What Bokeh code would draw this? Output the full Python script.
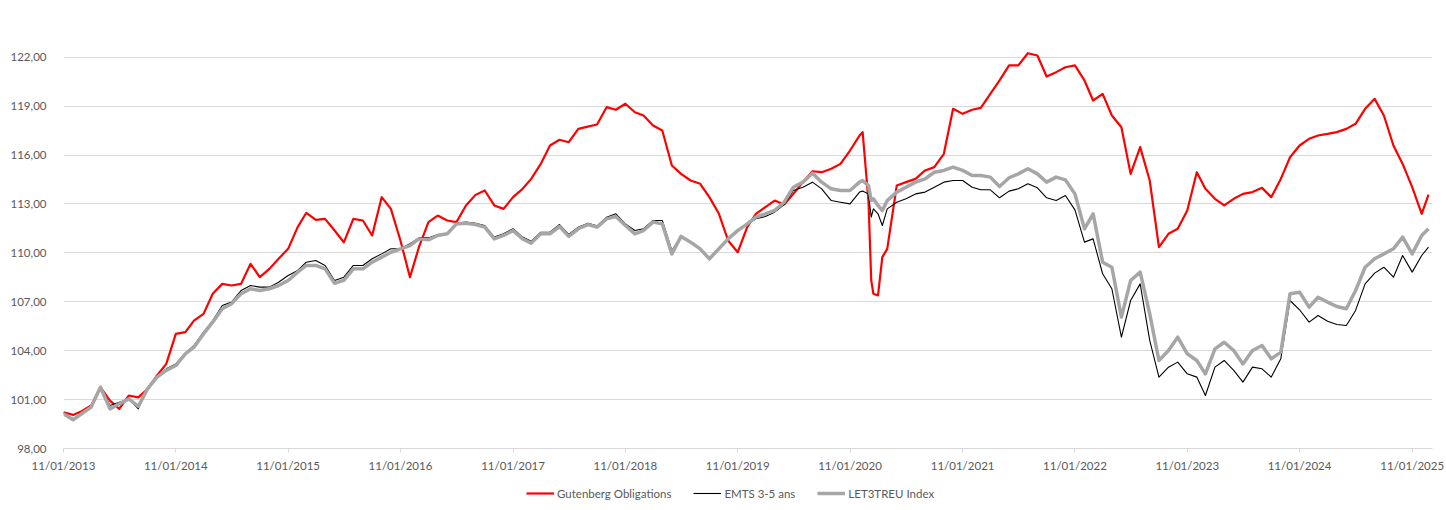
import pandas as pd
from bokeh.plotting import figure
from bokeh.layouts import column
from bokeh.models import (ColumnDataSource, Range1d, FixedTicker, CustomJSTickFormatter,
                          Legend, LegendItem)
from bokeh.embed import file_html
from bokeh.resources import INLINE

# ---------------- data ----------------
MONTHLY = [f"{2013 + m // 12}-{m % 12 + 1:02d}-11" for m in range(146)]
EXTRA = ["2020-02-21", "2020-03-20", "2020-03-27", "2020-04-25", "2025-03-05"]
DATES = sorted(MONTHLY + EXTRA)

SERIES_NAMES = ["Gutenberg Obligations", "EMTS 3-5 ans", "LET3TREU Index"]

GUTENBERG = [
    100.22, 100.06, 100.29, 100.64, 101.76, 100.94, 100.43, 101.25, 101.14, 101.65, 102.48, 103.19,
    105.03, 105.14, 105.85, 106.26, 107.49, 108.10, 108.00, 108.10, 109.33, 108.51, 109.02, 109.64,
    110.25, 111.58, 112.46, 112.03, 112.09, 111.37, 110.65, 112.09, 111.99, 111.07, 113.42, 112.70,
    110.76, 108.51, 110.35, 111.89, 112.29, 111.99, 111.89, 112.91, 113.56, 113.83, 112.91, 112.70,
    113.42, 113.93, 114.54, 115.46, 116.59, 116.94, 116.79, 117.61, 117.75, 117.88, 118.94, 118.78,
    119.15, 118.63, 118.43, 117.82, 117.51, 115.36, 114.85, 114.44, 114.24, 113.42, 112.40, 110.76,
    110.04, 111.58, 112.40, 112.81, 113.21, 112.97, 113.62, 114.34, 115.01, 114.95, 115.16, 115.46,
    116.28, 117.20, 117.41, 113.21, 108.31, 107.49, 107.39, 109.74, 110.25, 114.14, 114.34, 114.54,
    115.06, 115.26, 116.08, 118.84,
    118.53, 118.78, 118.90, 119.76, 120.58, 121.50, 121.50, 122.25, 122.11, 120.82, 121.09, 121.39,
    121.50, 120.58, 119.35, 119.76, 118.43, 117.71, 114.85, 116.49, 114.44, 110.35, 111.17, 111.48,
    112.60, 114.95, 113.93, 113.32, 112.91, 113.32, 113.62, 113.73, 113.99, 113.42, 114.54, 115.87,
    116.59, 117.00, 117.20, 117.30, 117.41, 117.61, 117.92, 118.84, 119.45, 118.43, 116.59, 115.46,
    114.03, 112.40, 113.58,
]

EMTS = [
    100.19, 99.82, 100.17, 100.58, 101.80, 100.64, 100.84, 101.04, 100.43, 101.66, 102.38, 102.89,
    103.19, 103.85, 104.32, 105.14, 105.85, 106.77, 106.98, 107.69, 108.00, 107.90, 107.90, 108.20,
    108.61, 108.92, 109.43, 109.53, 109.23, 108.31, 108.51, 109.23, 109.23, 109.64, 109.94, 110.25,
    110.25, 110.56, 110.92, 110.92, 111.13, 111.21, 111.82, 111.89, 111.82, 111.68, 110.97, 111.17,
    111.48, 110.97, 110.72, 111.27, 111.27, 111.74, 111.13, 111.58, 111.82, 111.66, 112.19, 112.40,
    111.78, 111.37, 111.48, 111.99, 111.99, 110.15, 111.01, 110.66, 110.25, 109.57, 110.25, 110.92,
    111.42, 111.74, 112.09, 112.23, 112.50, 112.97, 113.83, 114.03, 114.34, 113.93, 113.21, 113.11,
    113.01, 113.73, 113.79, 113.62, 112.19, 112.70, 112.40, 111.68, 112.70, 113.11, 113.32, 113.62,
    113.73, 114.03, 114.34, 114.44,
    114.44, 114.03, 113.87, 113.87, 113.38, 113.79, 113.93, 114.24, 113.99, 113.38, 113.21, 113.52,
    112.64, 110.66, 110.86, 108.72, 107.80, 104.83, 107.08, 108.10, 104.63, 102.38, 102.99, 103.30,
    102.58, 102.38, 101.25, 102.99, 103.40, 102.79, 102.07, 102.99, 102.89, 102.38, 103.50, 107.08,
    106.51, 105.75, 106.16, 105.81, 105.61, 105.55, 106.47, 108.10, 108.76, 109.12, 108.51, 109.84,
    108.82, 109.84, 110.35,
]

LET3TREU = [
    100.13, 99.76, 100.13, 100.54, 101.76, 100.43, 100.74, 101.04, 100.58, 101.66, 102.38, 102.79,
    103.09, 103.81, 104.22, 105.03, 105.75, 106.57, 106.88, 107.49, 107.80, 107.69, 107.80, 108.00,
    108.31, 108.82, 109.23, 109.23, 109.02, 108.14, 108.31, 109.02, 109.02, 109.43, 109.74, 110.04,
    110.25, 110.45, 110.86, 110.80, 111.07, 111.17, 111.78, 111.82, 111.74, 111.58, 110.86, 111.07,
    111.37, 110.86, 110.60, 111.17, 111.17, 111.62, 111.01, 111.48, 111.74, 111.58, 112.09, 112.23,
    111.68, 111.17, 111.37, 111.89, 111.78, 109.94, 111.01, 110.66, 110.25, 109.64, 110.25, 110.86,
    111.37, 111.78, 112.19, 112.40, 112.60, 113.11, 114.03, 114.34, 114.89, 114.34, 113.93, 113.83,
    113.83, 114.34, 114.44, 114.13, 113.21, 113.32, 112.91, 112.60, 113.21, 113.73, 114.03, 114.34,
    114.54, 114.95, 115.06, 115.26,
    115.06, 114.75, 114.75, 114.65, 114.07, 114.61, 114.85, 115.16, 114.85, 114.34, 114.65, 114.48,
    113.62, 111.48, 112.40, 109.43, 109.12, 106.06, 108.31, 108.82, 106.26, 103.40, 104.01, 104.83,
    103.81, 103.40, 102.58, 104.11, 104.52, 104.01, 103.19, 104.01, 104.32, 103.50, 103.91, 107.49,
    107.59, 106.67, 107.28, 106.98, 106.71, 106.57, 107.69, 109.12, 109.64, 109.94, 110.25, 110.97,
    109.94, 111.07, 111.48,
]

TICK_YEARS = list(range(2013, 2026))
Y_TICKS = list(range(98, 123, 3))

# ---------------- styles ----------------
FONT = "Lato"
TXT = "#595959"
GRID = "#d9d9d9"
STYLES = [dict(line_color="#ff0000", line_width=2.2),
          dict(line_color="#000000", line_width=1.1),
          dict(line_color="#a6a6a6", line_width=3.5)]

source = ColumnDataSource(dict(
    date=pd.to_datetime(DATES),
    gut=GUTENBERG, emts=EMTS, let=LET3TREU,
))

# ---------------- main chart ----------------
p = figure(frame_width=1369, frame_height=430, x_axis_type="datetime",
           output_backend="svg", toolbar_location=None,
           x_range=Range1d(pd.Timestamp("2013-01-11"), pd.Timestamp("2025-03-18")),
           y_range=Range1d(98, 124.38),
           min_border_left=63, min_border_right=14, min_border_top=18, min_border_bottom=30)
p.outline_line_color = None
p.background_fill_color = "white"
p.border_fill_color = "white"

for col, st in zip(["gut", "emts", "let"], STYLES):
    p.line("date", col, source=source, line_join="round", **st)

p.xaxis.ticker = FixedTicker(ticks=[pd.Timestamp(f"{y}-01-11").value / 1e6 for y in TICK_YEARS])
p.xaxis.formatter = CustomJSTickFormatter(code="""
const d = new Date(tick);
const dd = String(d.getUTCDate()).padStart(2, '0');
const mm = String(d.getUTCMonth() + 1).padStart(2, '0');
return dd + '/' + mm + '/' + d.getUTCFullYear();
""")
p.xaxis.axis_line_color = GRID
p.xaxis.major_tick_line_color = GRID
p.xaxis.major_tick_out = 4
p.xaxis.major_tick_in = 0
p.xaxis.minor_tick_line_color = None
p.xaxis.major_label_text_font = FONT
p.xaxis.major_label_text_font_size = "11.5px"
p.xaxis.major_label_text_color = TXT
p.xaxis.major_label_standoff = 6
p.xgrid.grid_line_color = None

p.yaxis.ticker = FixedTicker(ticks=Y_TICKS)
p.yaxis.formatter = CustomJSTickFormatter(code="return tick.toFixed(2).replace('.', ',');")
p.yaxis.axis_line_color = None
p.yaxis.major_tick_line_color = None
p.yaxis.minor_tick_line_color = None
p.yaxis.major_label_text_font = FONT
p.yaxis.major_label_text_font_size = "11.5px"
p.yaxis.major_label_text_color = TXT
p.yaxis.major_label_standoff = 11
p.ygrid.grid_line_color = GRID
p.ygrid.grid_line_width = 1

# ---------------- legend strip ----------------
pl = figure(frame_width=1369, frame_height=32, x_axis_type=None, y_axis_type=None,
            output_backend="svg", toolbar_location=None,
            x_range=Range1d(0, 1), y_range=Range1d(0, 1),
            min_border_left=63, min_border_right=14, min_border_top=0, min_border_bottom=0)
pl.outline_line_color = None
pl.xgrid.grid_line_color = None
pl.ygrid.grid_line_color = None
pl.background_fill_color = "white"
pl.border_fill_color = "white"

items = []
for name, st in zip(SERIES_NAMES, STYLES):
    # legend proxy: a single NaN point, never drawn, only carries the line style
    r = pl.line(x=[float("nan")], y=[float("nan")], **st)
    items.append(LegendItem(label=name, renderers=[r]))

legend = Legend(items=items, orientation="horizontal", location=(463, 7),
                padding=0, margin=0, spacing=22, glyph_width=28, glyph_height=20,
                label_height=20, label_standoff=3,
                label_text_font=FONT, label_text_font_size="11.5px", label_text_color=TXT,
                border_line_color=None, background_fill_alpha=0)
pl.add_layout(legend)

layout = column(p, pl, spacing=0)
open("out.html", "w").write(file_html(layout, INLINE))
